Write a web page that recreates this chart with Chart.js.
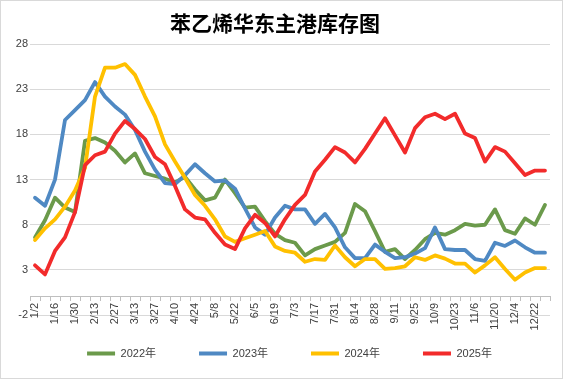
<!DOCTYPE html>
<html><head><meta charset="utf-8">
<script src="https://cdn.jsdelivr.net/npm/chart.js@4"></script>
<style>
html,body{margin:0;padding:0;background:#fff;}
canvas{display:block;outline:1px solid #d9d9d9;outline-offset:-1px;}
</style></head>
<body>
<canvas id="c" width="563" height="379"></canvas>
<script>
const chartTitle = '苯乙烯华东主港库存图';
const weeks = ['1/2','1/9','1/16','1/23','1/30','2/6','2/13','2/20','2/27','3/6','3/13','3/20','3/27','4/3','4/10','4/17','4/24','5/1','5/8','5/15','5/22','5/29','6/5','6/12','6/19','6/26','7/3','7/10','7/17','7/24','7/31','8/7','8/14','8/21','8/28','9/4','9/11','9/18','9/25','10/2','10/9','10/16','10/23','10/30','11/6','11/13','11/20','11/27','12/4','12/11','12/22','12/29'];
const seriesNames = ['2022年','2023年','2024年','2025年'];
const y2022 = [6.6,8.5,11.0,9.9,9.4,17.3,17.6,17.1,16.2,14.9,15.9,13.7,13.4,13.1,12.7,13.3,11.9,10.7,11.0,13.0,11.5,9.9,10.0,8.4,7.0,6.3,6.0,4.6,5.3,5.7,6.1,7.1,10.3,9.5,7.3,5.0,5.3,4.2,5.2,6.4,7.1,6.9,7.4,8.1,7.9,8.0,9.7,7.4,7.0,8.7,8.0,10.2];
const y2023 = [11.0,10.1,13.0,19.6,20.7,21.8,23.8,22.2,21.1,20.2,18.5,16.1,14.1,12.6,12.5,13.5,14.7,13.7,12.8,12.9,12.0,9.8,7.7,6.9,8.8,10.1,9.7,9.7,8.1,9.2,7.7,5.5,4.3,4.3,5.8,5.0,4.3,4.4,4.8,5.4,7.7,5.3,5.2,5.2,4.2,4.0,6.0,5.65,6.25,5.5,4.9,4.9];
const y2024 = [6.3,7.6,8.6,10.0,11.8,14.3,22.2,25.4,25.4,25.8,24.6,22.2,20.0,16.9,15.0,13.2,11.3,10.1,8.6,6.7,6.1,6.5,6.9,7.3,5.6,5.1,4.9,3.9,4.2,4.1,5.7,4.4,3.4,4.2,4.2,3.1,3.2,3.4,4.4,4.1,4.6,4.25,3.7,3.7,2.7,3.5,4.4,3.1,1.9,2.7,3.2,3.2];
const y2025 = [3.5,2.5,5.1,6.6,9.4,14.6,15.7,16.1,18.1,19.5,18.6,17.5,15.5,14.7,12.3,9.7,8.8,8.6,7.1,5.8,5.3,7.6,9.1,8.2,6.7,8.6,10.2,11.3,13.9,15.2,16.6,16.0,14.9,16.4,18.1,19.8,17.9,16.0,18.7,19.9,20.3,19.7,20.3,18.1,17.6,15.0,16.6,16.1,14.8,13.5,14.0,14.0];
const colors = ['#6b9a4b','#4f89c3','#ffc000','#f22b2b'];
const yMin = -2, yMax = 28, yStep = 5;

Chart.defaults.font.family = "'Liberation Sans','Noto Sans CJK SC',sans-serif";
Chart.defaults.color = '#404040';

const allSeries = [y2022, y2023, y2024, y2025];
const datasets = allSeries.map((d, i) => ({
  label: seriesNames[i],
  data: d,
  borderColor: colors[i],
  backgroundColor: colors[i],
  borderWidth: 3.8,
  pointRadius: 0,
  tension: 0,
  borderJoinStyle: 'round',
  borderCapStyle: 'round',
  order: 4 - i
}));

const legendAdjust = {
  id: 'legendAdjust',
  afterLayout(chart) {
    const lg = chart.legend;
    if (!lg) return;
    const dy = -10, dx = 14.5;
    lg.top += dy; lg.bottom += dy; lg.left += dx; lg.right += dx;
  }
};

new Chart(document.getElementById('c'), {
  type: 'line',
  data: { labels: weeks, datasets },
  plugins: [legendAdjust],
  options: {
    responsive: false,
    animation: false,
    devicePixelRatio: 1,
    layout: { padding: { left: 0, right: 13, top: 0, bottom: 0 } },
    plugins: {
      title: {
        display: true,
        text: chartTitle,
        color: '#000',
        font: { family: "'Noto Sans CJK SC',sans-serif", size: 21, weight: 'bold' },
        padding: { top: 10, bottom: 9 }
      },
      legend: {
        position: 'bottom',
        reverse: true,
        maxHeight: 71,
        labels: {
          boxWidth: 28,
          boxHeight: 4,
          padding: 43,
          color: '#404040',
          font: { size: 11 },
          generateLabels(chart) {
            return Chart.defaults.plugins.legend.labels.generateLabels(chart).map(it => Object.assign(it, { lineWidth: 0 }));
          }
        }
      },
      tooltip: { enabled: false }
    },
    scales: {
      x: {
        type: 'category',
        position: { y: 0 },
        offset: true,
        grid: { display: true, drawOnChartArea: false, drawTicks: true, tickLength: 4, offset: true, color: '#bfbfbf' },
        border: { display: true, color: '#bfbfbf' },
        ticks: {
          autoSkip: false, maxRotation: 90, minRotation: 90, padding: 2,
          font: { size: 11 }, color: '#404040',
          callback: (v, i) => (i % 2 === 0 ? weeks[i] : '')
        }
      },
      y: {
        min: yMin, max: yMax,
        afterFit(scale) { scale.width = 30; },
        grid: { color: '#d9d9d9', drawTicks: false },
        border: { display: false },
        ticks: { stepSize: yStep, padding: 2, font: { size: 11 }, color: '#404040' }
      }
    }
  }
});
</script>
</body></html>
